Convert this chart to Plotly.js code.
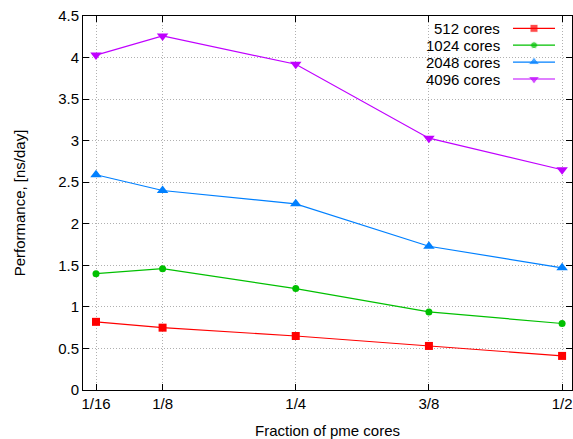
<!DOCTYPE html>
<html>
<head>
<meta charset="utf-8">
<script src="https://cdn.plot.ly/plotly-3.0.1.min.js"></script>
<style>html,body{margin:0;padding:0;background:#fff;}#chart{width:573px;height:439px;}</style>
</head>
<body>
<div id="chart"></div>
<script>
// Data
const xValues = [0.0625, 0.125, 0.25, 0.375, 0.5];
const xTickLabels = ["1/16", "1/8", "1/4", "3/8", "1/2"];
const seriesNames = ["512 cores", "1024 cores", "2048 cores", "4096 cores"];
const cores512 = [0.82, 0.75, 0.65, 0.53, 0.41];
const cores1024 = [1.40, 1.46, 1.22, 0.94, 0.80];
const cores2048 = [2.59, 2.40, 2.24, 1.73, 1.47];
const cores4096 = [4.03, 4.26, 3.92, 3.03, 2.65];

const allSeries = [cores512, cores1024, cores2048, cores4096];
const colors = ["#ff0000", "#00c000", "#0080ff", "#c000ff"];
const symbols = ["square", "circle", "triangle-up", "triangle-down"];
const sizes = [8, 7, 10, 10];

const font = "Liberation Sans, Arial, sans-serif";
const fs = 15;

const traces = allSeries.map((ys, i) => ({
  x: xValues, y: ys, name: seriesNames[i], type: "scatter", mode: "lines+markers",
  line: {color: colors[i], width: 1.2},
  marker: {color: colors[i], symbol: symbols[i], size: sizes[i]},
  showlegend: false, cliponaxis: false
}));

// Custom legend (gnuplot style: text on left, sample on right)
const annotations = [];
const shapes = [];
const legTop = 28.3, legStep = 16.9;
const textRight = 502, lineL = 513, lineR = 555;
const W = 573, H = 439;
const mL = 83, mR = 1, mT = 16, mB = 49;
const pw = W - mL - mR, ph = H - mT - mB;
function px(x){ return (x - mL) / pw; }
function py(y){ return 1 - (y - mT) / ph; }
const legendMarkers = {x: [], y: [], color: [], symbol: [], size: []};
seriesNames.forEach((n, i) => {
  const yy = legTop + i * legStep;
  annotations.push({xref: "paper", yref: "paper", x: px(textRight), y: py(yy), xanchor: "right", yanchor: "middle",
    text: n, showarrow: false, font: {family: font, size: fs, color: "#000"}});
  shapes.push({type: "line", xref: "paper", yref: "paper", x0: px(lineL), x1: px(lineR), y0: py(yy), y1: py(yy),
    line: {color: colors[i], width: 1.2}});
  legendMarkers.x.push(px((lineL + lineR) / 2));
  legendMarkers.y.push(py(yy));
  legendMarkers.color.push(colors[i]);
  legendMarkers.symbol.push(symbols[i]);
  legendMarkers.size.push(sizes[i]);
});
traces.push({x: legendMarkers.x, y: legendMarkers.y, xaxis: "x2", yaxis: "y2", type: "scatter", mode: "markers",
  marker: {color: legendMarkers.color, symbol: legendMarkers.symbol, size: legendMarkers.size},
  showlegend: false, hoverinfo: "skip", cliponaxis: false});

const layout = {
  width: W, height: H,
  margin: {l: mL, r: mR, t: mT, b: mB, pad: 0},
  paper_bgcolor: "#fff", plot_bgcolor: "#fff",
  font: {family: font, size: fs, color: "#000"},
  showlegend: false,
  xaxis: {
    range: [0.0503, 0.5093], tickvals: xValues, ticktext: xTickLabels,
    ticks: "inside", ticklen: 6, tickcolor: "#000", mirror: "ticks",
    showline: true, linecolor: "#000", linewidth: 1,
    showgrid: true, gridcolor: "#b0b0b0", griddash: "1px,2px", gridwidth: 1,
    zeroline: false, tickfont: {size: fs},
    title: {text: "Fraction of pme cores", font: {size: fs}, standoff: 14}
  },
  yaxis: {
    range: [0, 4.5], dtick: 0.5, tick0: 0,
    ticks: "inside", ticklen: 6, tickcolor: "#000", mirror: "ticks",
    showline: true, linecolor: "#000", linewidth: 1,
    showgrid: true, gridcolor: "#b0b0b0", griddash: "1px,2px", gridwidth: 1,
    zeroline: false, tickfont: {size: fs},
    title: {text: "Performance, [ns/day]", font: {size: fs}, standoff: 28}
  },
  xaxis2: {range: [0, 1], overlaying: "x", visible: false, fixedrange: true},
  yaxis2: {range: [0, 1], overlaying: "y", visible: false, fixedrange: true},
  annotations: annotations,
  shapes: shapes
};

Plotly.newPlot("chart", traces, layout, {displayModeBar: false, staticPlot: true});
</script>
</body>
</html>
